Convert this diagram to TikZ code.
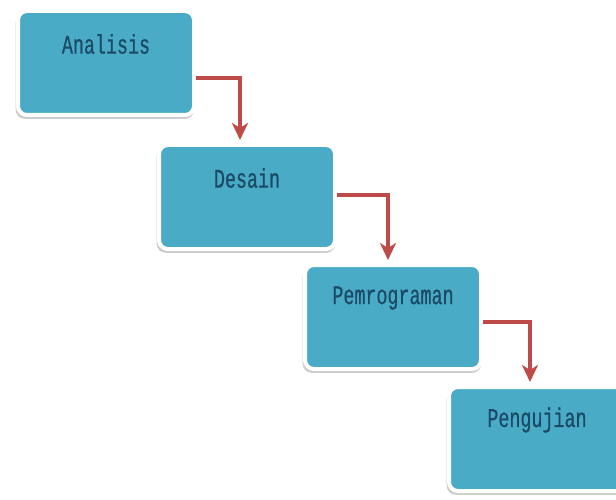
\documentclass[tikz,border=0pt]{standalone}
\usepackage{fontspec}
\newfontfamily\boxfont[FakeStretch=0.68,FakeBold=0.6]{Liberation Mono}
\usetikzlibrary{shadows,arrows.meta}
\definecolor{boxfill}{HTML}{4AABC7}
\definecolor{boxtext}{HTML}{1B4A66}
\definecolor{arrred}{HTML}{BE4B48}
\tikzset{
  stage/.style={rectangle, rounded corners=9pt, fill=boxfill, draw=white, line width=4pt,
    minimum width=176pt, minimum height=104pt, inner sep=0pt,
    drop shadow={shadow xshift=-1pt, shadow yshift=-3pt, shadow scale=1.015, opacity=0.5, fill=gray!80}},
  lbl/.style={font=\boxfont\fontsize{27}{30}\selectfont, text=boxtext, inner sep=0pt},
  arr/.style={draw=arrred, line width=4pt, -{Stealth[width=16pt,length=17pt,inset=5pt]}, shorten >=3pt}
}
\begin{document}
\begin{tikzpicture}[x=1pt,y=1pt]
\useasboundingbox (0,0) rectangle (616,-500);
\clip (0,0) rectangle (616,-500);
\node[stage] (a) at (106,-63) {};
\node[stage] (b) at (247,-197) {};
\node[stage] (c) at (393,-317) {};
\node[stage] (d) at (537,-439) {};
\node[lbl] (ta) at ([yshift=19pt]a.center) {Analisis};
\node[lbl] (tb) at ([yshift=19pt]b.center) {Desain};
\node[lbl] (tc) at ([yshift=19pt]c.center) {Pemrograman};
\node[lbl] (td) at ([yshift=19pt]d.center) {Pengujian};
\draw[arr] ([yshift=-15pt]a.east) -| ([xshift=-7pt]b.north);
\draw[arr] ([yshift=2pt]b.east) -| ([xshift=-5pt]c.north);
\draw[arr] ([yshift=-5pt]c.east) -| ([xshift=-7pt]d.north);
\end{tikzpicture}
\end{document}
